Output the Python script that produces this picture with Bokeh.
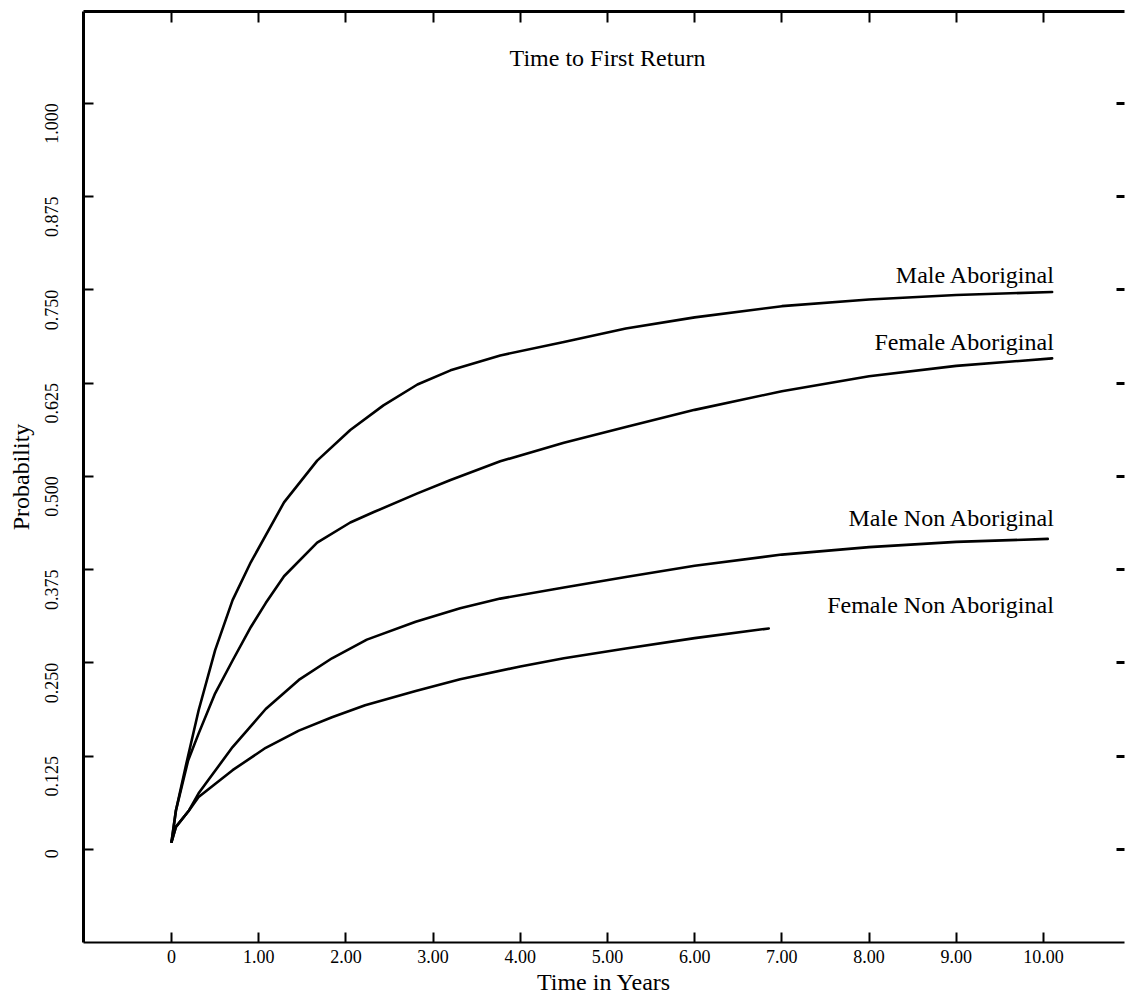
import math
from bokeh.plotting import figure
from bokeh.models import Range1d, LinearAxis, FixedTicker, Label
from bokeh.embed import file_html
from bokeh.resources import INLINE

FONT = "Liberation Serif"

title_text = "Time to First Return"
x_label = "Time in Years"
y_label = "Probability"

x_ticks = [0, 1, 2, 3, 4, 5, 6, 7, 8, 9, 10]
x_tick_labels = ["0", "1.00", "2.00", "3.00", "4.00", "5.00", "6.00", "7.00", "8.00", "9.00", "10.00"]
y_ticks = [0, 0.125, 0.25, 0.375, 0.5, 0.625, 0.75, 0.875, 1.0]
y_tick_labels = ["0", "0.125", "0.250", "0.375", "0.500", "0.625", "0.750", "0.875", "1.000"]

series_names = ["Male Aboriginal", "Female Aboriginal", "Male Non Aboriginal", "Female Non Aboriginal"]

time_male_ab = [0, 0.05, 0.16, 0.31, 0.5, 0.7, 0.91, 1.29, 1.67, 2.05, 2.43, 2.82, 3.2, 3.77,
                4.5, 5.21, 6.0, 7.0, 8.0, 9.0, 10.1]
prob_male_ab = [0.01, 0.052, 0.11, 0.186, 0.267, 0.334, 0.385, 0.465, 0.521, 0.562, 0.595, 0.623, 0.642, 0.662,
                0.68, 0.698, 0.713, 0.728, 0.737, 0.743, 0.747]

time_female_ab = [0, 0.05, 0.19, 0.31, 0.5, 0.7, 0.91, 1.08, 1.29, 1.67, 2.05, 2.32, 2.82, 3.2, 3.77,
                  4.5, 5.21, 6.0, 7.0, 8.0, 9.0, 10.1]
prob_female_ab = [0.01, 0.052, 0.119, 0.155, 0.209, 0.253, 0.298, 0.33, 0.366, 0.411, 0.438, 0.452, 0.477, 0.495, 0.52,
                  0.545, 0.566, 0.589, 0.614, 0.634, 0.648, 0.658]

time_male_non = [0, 0.05, 0.2, 0.31, 0.7, 1.08, 1.46, 1.84, 2.24, 2.8, 3.31, 3.77, 4.5, 5.21,
                 6.0, 7.0, 8.0, 9.0, 10.05]
prob_male_non = [0.01, 0.03, 0.052, 0.075, 0.137, 0.188, 0.227, 0.256, 0.281, 0.305, 0.323, 0.336, 0.351, 0.365,
                 0.38, 0.395, 0.405, 0.412, 0.416]

time_female_non = [0, 0.05, 0.2, 0.31, 0.7, 1.08, 1.46, 1.84, 2.22, 2.8, 3.31, 4.0, 4.5, 5.21, 6.0, 6.85]
prob_female_non = [0.01, 0.03, 0.052, 0.07, 0.106, 0.136, 0.159, 0.177, 0.193, 0.212, 0.228, 0.245, 0.256, 0.269,
                   0.283, 0.296]

series_times = [time_male_ab, time_female_ab, time_male_non, time_female_non]
series_probs = [prob_male_ab, prob_female_ab, prob_male_non, prob_female_non]
label_offsets_px = [17, 16, 21, 23]

p = figure(width=1126, height=998, output_backend="svg", toolbar_location=None,
           x_range=Range1d(-1.01, 10.93), y_range=Range1d(-0.125, 1.123),
           min_border_left=83, min_border_right=2, min_border_top=11, min_border_bottom=56)
p.outline_line_color = None
p.xgrid.visible = False
p.ygrid.visible = False
p.background_fill_color = "white"
p.border_fill_color = "white"

# bottom axis
xa = p.xaxis[0]
xa.ticker = FixedTicker(ticks=x_ticks)
xa.major_label_overrides = {t: s for t, s in zip(x_ticks, x_tick_labels)}
xa.minor_tick_line_color = None
xa.major_tick_in = 10
xa.major_tick_out = 0
xa.major_tick_line_width = 2
xa.axis_line_width = 2
xa.major_label_standoff = 7
xa.major_label_text_font = FONT
xa.major_label_text_font_size = "18px"
xa.major_label_text_color = "black"
xa.axis_label = x_label
xa.axis_label_text_font = FONT
xa.axis_label_text_font_style = "normal"
xa.axis_label_text_font_size = "24px"
xa.axis_label_text_color = "black"
xa.axis_label_standoff = 3

# left axis
ya = p.yaxis[0]
ya.ticker = FixedTicker(ticks=y_ticks)
ya.major_label_overrides = {t: s for t, s in zip(y_ticks, y_tick_labels)}
ya.major_label_orientation = math.pi / 2
ya.minor_tick_line_color = None
ya.major_tick_in = 10
ya.major_tick_out = 0
ya.major_tick_line_width = 2
ya.axis_line_width = 3
ya.major_label_standoff = 32
ya.major_label_text_font = FONT
ya.major_label_text_font_size = "18px"
ya.major_label_text_color = "black"
ya.axis_label = y_label
ya.axis_label_text_font = FONT
ya.axis_label_text_font_style = "normal"
ya.axis_label_text_font_size = "24px"
ya.axis_label_text_color = "black"
ya.axis_label_standoff = 2

# top axis (ticks only)
ta = LinearAxis(ticker=FixedTicker(ticks=x_ticks))
ta.major_label_overrides = {t: "" for t in x_ticks}
ta.major_label_text_font_size = "0px"
ta.major_label_standoff = 0
ta.minor_tick_line_color = None
ta.major_tick_in = 11
ta.major_tick_out = 0
ta.major_tick_line_width = 2
ta.axis_line_width = 3
p.add_layout(ta, "above")

# right axis (ticks only)
ra = LinearAxis(ticker=FixedTicker(ticks=y_ticks))
ra.major_label_overrides = {t: "" for t in y_ticks}
ra.major_label_text_font_size = "0px"
ra.major_label_standoff = 0
ra.minor_tick_line_color = None
ra.major_tick_in = 8
ra.major_tick_out = 0
ra.major_tick_line_width = 3
ra.axis_line_color = None
p.add_layout(ra, "right")

label_x = max(t[-1] for t in series_times)
for name, ts, ps, off in zip(series_names, series_times, series_probs, label_offsets_px):
    p.line(ts, ps, line_color="black", line_width=2.6, line_join="round", line_cap="round")
    p.add_layout(Label(x=label_x, y=ps[-1], x_offset=3, y_offset=off, text=name,
                       text_align="right", text_baseline="middle",
                       text_font=FONT, text_font_size="24px", text_color="black"))

p.add_layout(Label(x=5.0, y=1.06, text=title_text, text_align="center", text_baseline="middle",
                   text_font=FONT, text_font_size="24px", text_color="black"))

open("out.html", "w").write(file_html(p, INLINE))
